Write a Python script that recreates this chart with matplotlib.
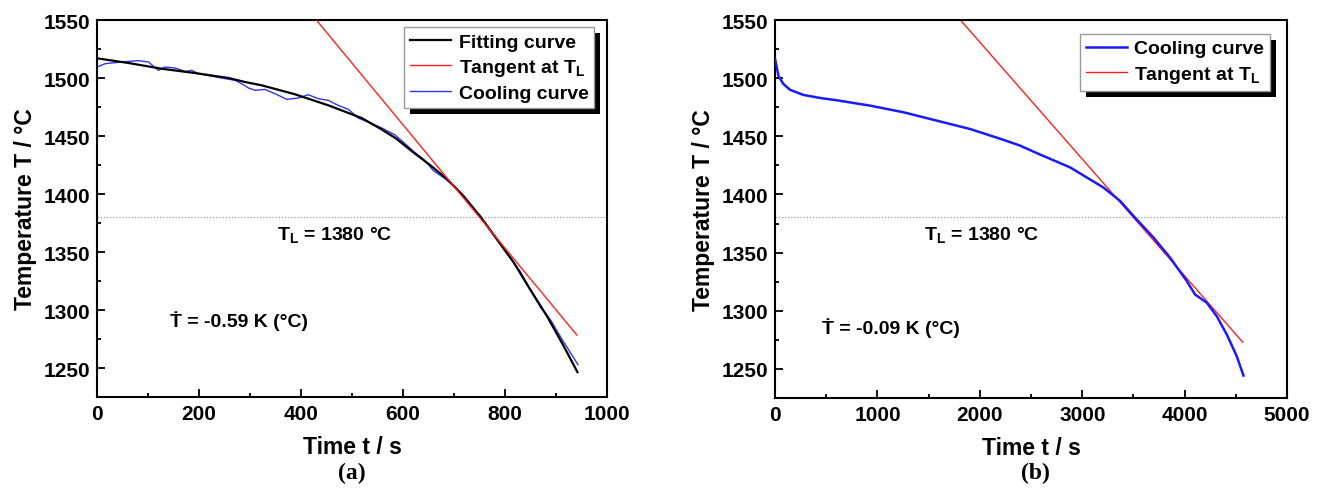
import matplotlib

matplotlib.use("Agg")
import matplotlib.pyplot as plt
from matplotlib.patches import Rectangle
from matplotlib.ticker import MultipleLocator

plt.rcParams["font.family"] = ["Liberation Sans", "DejaVu Sans"]
plt.rcParams["font.weight"] = "bold"
plt.rcParams["mathtext.fontset"] = "custom"
plt.rcParams["mathtext.rm"] = "Liberation Sans:bold"
plt.rcParams["mathtext.bf"] = "Liberation Sans:bold"

# panel (a): fitted curve, raw cooling curve, tangent at T_L
fit_a_t = [0, 61, 127, 192, 258, 290, 323, 388, 454, 519, 555, 586, 620, 653,
           686, 718, 751, 784, 817, 849, 882, 915, 942]
fit_a_T = [1517, 1513, 1508, 1504.3, 1500, 1496.6, 1493.7, 1486, 1476.4, 1465.5,
           1456.5, 1448, 1436, 1425, 1413, 1398.5, 1381, 1361, 1341, 1318, 1295,
           1269, 1246.5]

cool_a_t = [0, 16, 48, 81, 101, 120, 133, 153, 173, 186, 199, 218, 244, 271, 284,
            297, 310, 329, 349, 372, 395, 414, 434, 454, 473, 493, 512, 532, 558,
            584, 600, 620, 640, 660, 680, 700, 720, 750, 780, 800, 830, 850, 870,
            890, 910, 930, 943]
cool_a_T = [1509.5, 1512.4, 1513.8, 1515, 1513.8, 1506.6, 1509.5, 1508.6, 1505.7,
            1506.6, 1503.7, 1502.3, 1500, 1498, 1495, 1491.4, 1489.4, 1490.2, 1486.5,
            1481.6, 1482.8, 1485.6, 1482.2, 1480.7, 1476.4, 1473, 1465.5, 1462, 1457,
            1451, 1445, 1437, 1430, 1420, 1414, 1407, 1398, 1381, 1364, 1352, 1333,
            1317, 1302, 1291, 1276, 1262, 1253]

tan_a_t = [430, 941]
tan_a_T = [1550, 1278.4]

# panel (b): cooling curve and tangent at T_L
cool_b_t = [0, 33, 81, 146, 277, 439, 602, 928, 1253, 1579, 1904, 2230, 2393, 2555,
            2881, 3206, 3369, 3499, 3695, 3857, 4020, 4101, 4215, 4313, 4411, 4508,
            4574]
cool_b_T = [1516.7, 1502, 1495, 1490, 1485.6, 1483, 1481, 1476.4, 1470.7, 1463.5,
            1456.3, 1447, 1442, 1435.6, 1423.3, 1406, 1394.5, 1381.6, 1363, 1345.7,
            1325.6, 1314, 1307, 1295.4, 1279.6, 1261, 1244.3]

tan_b_t = [1810, 4567]
tan_b_T = [1550, 1273]

T_L = 1380.5


def style_axes(ax, xmax, xmajor):
    ax.set_xlim(0, xmax)
    ax.set_ylim(1225, 1550)
    ax.xaxis.set_major_locator(MultipleLocator(xmajor))
    ax.xaxis.set_minor_locator(MultipleLocator(xmajor / 2))
    ax.yaxis.set_major_locator(MultipleLocator(50))
    ax.yaxis.set_minor_locator(MultipleLocator(25))
    ax.tick_params(which="both", direction="in", top=False, right=False, labelsize=15, width=1.3)
    ax.tick_params(which="major", length=6, pad=5)
    ax.tick_params(which="minor", length=3)
    for spine in ax.spines.values():
        spine.set_linewidth(1.5)
    for lbl in ax.get_xticklabels() + ax.get_yticklabels():
        lbl.set_fontweight("bold")
    ax.set_xlabel("Time t / s", fontsize=16.5, fontweight="bold", labelpad=9)
    ax.set_ylabel("Temperature T / °C", fontsize=16.5, fontweight="bold", labelpad=5)
    ax.axhline(T_L, color="#999999", lw=0.9, ls=(0, (1, 1.5)), zorder=1)


fig = plt.figure(figsize=(13.17, 4.89), dpi=100)
ax_a = fig.add_axes([0.0737, 0.186, 0.3872, 0.771])
ax_b = fig.add_axes([0.5885, 0.184, 0.3888, 0.773])

style_axes(ax_a, 1000, 200)
ax_a.plot(fit_a_t, fit_a_T, color="black", lw=1.6, label="Fitting curve", zorder=3)
ax_a.plot(tan_a_t, tan_a_T, color="#ff2020", lw=1.0, label=r"Tangent at T$_\mathbf{L}$", zorder=4)
ax_a.plot(cool_a_t, cool_a_T, color="#3333ff", lw=1.0, label="Cooling curve", zorder=2)
ax_a.text(353, 1365, r"T$_\mathbf{L}$ = 1380 °C", fontsize=14, fontweight="bold", va="center")
ax_a.text(143, 1291, "Ṫ = -0.59 K (°C)", fontsize=14, fontweight="bold", va="center")

style_axes(ax_b, 5000, 1000)
ax_b.plot(cool_b_t, cool_b_T, color="#1a1aff", lw=1.8, label="Cooling curve", zorder=3)
ax_b.plot(tan_b_t, tan_b_T, color="#ff2020", lw=1.0, label=r"Tangent at T$_\mathbf{L}$", zorder=2)
ax_b.text(1455, 1365, r"T$_\mathbf{L}$ = 1380 °C", fontsize=14, fontweight="bold", va="center")
ax_b.text(456, 1286, "Ṫ = -0.09 K (°C)", fontsize=14, fontweight="bold", va="center")

legends = []
for ax, anchor in ((ax_a, (0.975, 0.981)), (ax_b, (0.967, 0.963))):
    leg = ax.legend(loc="upper right", bbox_to_anchor=anchor, borderaxespad=0,
                    fontsize=14, frameon=True, fancybox=False, edgecolor="#999999",
                    framealpha=1, borderpad=0.3, labelspacing=0.32, handletextpad=0.4,
                    handlelength=2.1)
    leg.get_frame().set_linewidth(1.0)
    for t in leg.get_texts():
        t.set_fontweight("bold")
    legends.append(leg)

# black drop shadow behind legends
fig.canvas.draw()
for leg in legends:
    bb = leg.get_window_extent().transformed(fig.transFigure.inverted())
    dx, dy = 6 / 1317, 6 / 489
    shadow = Rectangle((bb.x0 + dx, bb.y0 - dy), bb.width, bb.height,
                       transform=fig.transFigure, facecolor="black", edgecolor="none",
                       zorder=4)
    fig.patches.append(shadow)
    leg.remove()
    fig.legends.append(leg)
    leg.set_figure(fig)
    leg.set_zorder(10)

fig.text(0.267, 0.02, "(a)", family="Liberation Serif", fontsize=17, fontweight="bold", ha="center")
fig.text(0.786, 0.02, "(b)", family="Liberation Serif", fontsize=17, fontweight="bold", ha="center")

fig.savefig("out.png", dpi=100)
